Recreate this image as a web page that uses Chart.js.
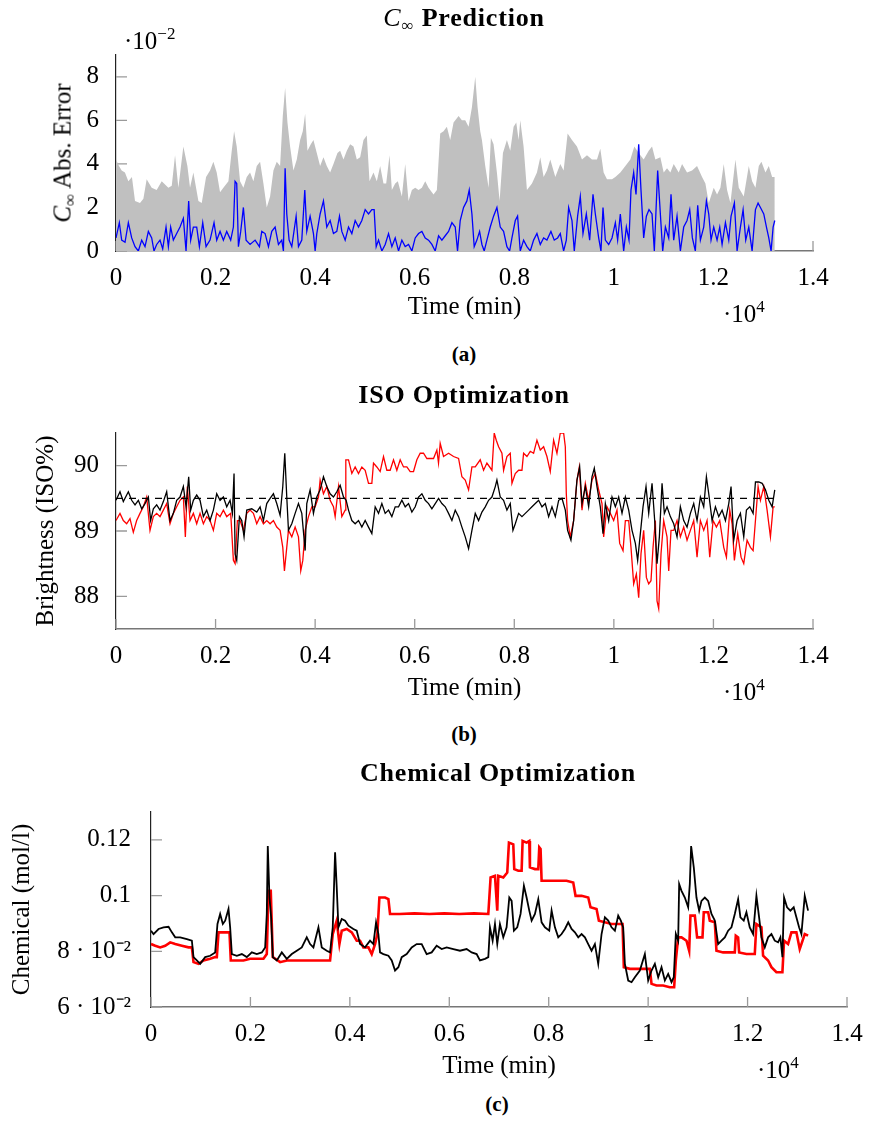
<!DOCTYPE html>
<html>
<head>
<meta charset="utf-8">
<script src="https://cdn.jsdelivr.net/npm/chart.js@4.4.1/dist/chart.umd.min.js"></script>
<style>
  body { margin:0; width:870px; height:1127px; position:relative; background:#fff; overflow:hidden;
         font-family:'Liberation Serif', serif; color:#000; }
  canvas { position:absolute; left:0; }
  .txt { position:absolute; white-space:nowrap; line-height:1; }
  .ctr { transform:translateX(-50%); }
  .ttl { font-size:26px; font-weight:bold; letter-spacing:0.8px; }
  .cap { font-size:21px; font-weight:bold; }
  .mul { font-size:25px; }
  .sup { font-size:17px; position:relative; top:-10px; }
</style>
</head>
<body>
<canvas id="ca" width="870" height="330" style="top:0px"></canvas>
<canvas id="cb" width="870" height="310" style="top:400px"></canvas>
<canvas id="cc" width="870" height="310" style="top:780px"></canvas>

<div class="txt ttl ctr" style="left:464px;top:5px"><i style="font-weight:normal">C</i><span style="font-weight:normal;font-size:17px;position:relative;top:5px">∞</span> Prediction</div>
<div class="txt mul" style="left:124px;top:28px">·10<span class="sup">−2</span></div>
<div class="txt" style="left:62px;top:153px;font-size:25px;transform:translate(-50%,-50%) rotate(-90deg)"><i>C</i><span style="font-size:17px;position:relative;top:5px">∞</span> Abs. Error</div>
<div class="txt mul" style="left:723px;top:301px">·10<span class="sup">4</span></div>
<div class="txt cap ctr" style="left:464px;top:344px">(a)</div>

<div class="txt ttl ctr" style="left:464px;top:382px">ISO Optimization</div>
<div class="txt mul" style="left:723px;top:679px">·10<span class="sup">4</span></div>
<div class="txt cap ctr" style="left:464px;top:724px">(b)</div>

<div class="txt ttl ctr" style="left:498px;top:760px">Chemical Optimization</div>
<div class="txt mul" style="left:757px;top:1057px">·10<span class="sup">4</span></div>
<div class="txt cap ctr" style="left:497px;top:1094px">(c)</div>

<script>
// ---------- shared axis ticks ----------
const xTickValues = [0, 2000, 4000, 6000, 8000, 10000, 12000, 14000];
const xTickLabels = ['0', '0.2', '0.4', '0.6', '0.8', '1', '1.2', '1.4'];

// ---------- (a) C-infinity prediction (values in units of 1e-2) ----------
const aTickValues = [0, 2, 4, 6, 8];
const aTickLabels = ['0', '2', '4', '6', '8'];
const aBandTime = [
  0, 60, 114, 180, 248, 320, 382, 482, 550, 616,
  717, 817, 918, 1052, 1120, 1186, 1253, 1353, 1434, 1487,
  1554, 1655, 1722, 1809, 1889, 1956, 2023, 2090, 2157, 2258,
  2325, 2372, 2425, 2492, 2559, 2626, 2693, 2760, 2827, 2894,
  2961, 3028, 3095, 3162, 3229, 3296, 3350, 3397, 3444, 3497,
  3564, 3631, 3698, 3752, 3799, 3846, 3913, 3966, 4033, 4100,
  4167, 4234, 4301, 4368, 4448, 4502, 4569, 4636, 4703, 4770,
  4837, 4904, 4971, 5038, 5092, 5172, 5239, 5306, 5373, 5427,
  5494, 5541, 5608, 5661, 5742, 5809, 5876, 5943, 6010, 6077,
  6144, 6211, 6278, 6378, 6445, 6512, 6579, 6646, 6713, 6780,
  6881, 6948, 7015, 7082, 7149, 7216, 7263, 7316, 7350, 7417,
  7484, 7530, 7584, 7651, 7705, 7772, 7852, 7919, 7986, 8040,
  8087, 8120, 8187, 8254, 8355, 8455, 8522, 8589, 8656, 8723,
  8824, 8924, 8991, 9071, 9159, 9259, 9360, 9460, 9561, 9661,
  9728, 9795, 9862, 9963, 10030, 10130, 10231, 10331, 10411, 10499,
  10599, 10700, 10767, 10834, 10934, 11001, 11068, 11135, 11202, 11303,
  11370, 11470, 11571, 11671, 11772, 11839, 11906, 12006, 12073, 12140,
  12207, 12274, 12341, 12442, 12509, 12609, 12710, 12777, 12844, 12911,
  12964, 13045, 13112, 13179, 13232
];
const aBand = [
  4.2, 3.9, 3.7, 3.6, 3.2, 3.4, 2.3, 2.2, 2.4, 3.3,
  2.9, 2.8, 3.2, 2.9, 3.0, 4.4, 2.9, 4.8, 3.9, 2.9,
  3.6, 2.3, 2.2, 3.4, 3.7, 4.1, 3.6, 2.7, 2.9, 3.2,
  4.6, 5.5, 4.8, 3.2, 2.9, 3.4, 3.6, 3.2, 3.9, 4.1,
  3.1, 2.0, 2.5, 3.7, 4.1, 3.9, 6.2, 7.5, 5.9, 4.8,
  3.7, 4.2, 5.1, 5.5, 6.3, 4.6, 4.9, 5.1, 4.5, 3.9,
  4.3, 3.9, 3.6, 4.0, 4.5, 4.6, 4.2, 4.6, 4.9, 4.8,
  4.2, 4.3, 5.1, 5.3, 3.2, 3.6, 3.2, 3.9, 3.1, 3.1,
  4.4, 2.8, 3.1, 3.2, 2.5, 4.0, 2.3, 2.8, 2.9, 2.8,
  2.9, 3.2, 2.9, 2.6, 2.8, 5.4, 5.5, 5.7, 5.1, 5.9,
  6.2, 6.0, 6.0, 5.7, 6.6, 8.0, 6.6, 5.5, 5.1, 3.9,
  2.9, 5.2, 4.9, 3.6, 2.3, 4.5, 5.1, 4.6, 5.7, 5.9,
  5.1, 6.0, 4.8, 2.8, 3.1, 3.6, 4.3, 3.4, 3.7, 4.2,
  3.4, 4.0, 3.7, 5.4, 5.1, 4.8, 4.2, 4.4, 4.2, 4.2,
  4.7, 3.6, 3.3, 3.3, 3.4, 3.6, 3.9, 4.2, 4.8, 4.5,
  4.2, 4.6, 4.8, 4.2, 4.3, 3.6, 3.8, 3.6, 4.0, 3.6,
  4.0, 3.6, 3.7, 3.9, 3.4, 3.1, 2.2, 2.9, 2.6, 2.9,
  4.0, 2.8, 2.2, 4.2, 2.9, 2.5, 3.9, 3.2, 2.9, 3.9,
  4.1, 3.6, 3.9, 3.4, 3.4
];
const aErrTime = [
  0, 67, 114, 181, 248, 315, 382, 449, 516, 583,
  650, 717, 763, 817, 884, 938, 1005, 1052, 1098, 1152,
  1219, 1286, 1353, 1407, 1460, 1500, 1554, 1621, 1675, 1742,
  1809, 1889, 1969, 2023, 2090, 2157, 2224, 2304, 2358, 2392,
  2425, 2459, 2505, 2559, 2613, 2693, 2794, 2881, 2928, 2995,
  3062, 3129, 3196, 3263, 3330, 3363, 3397, 3430, 3477, 3531,
  3618, 3665, 3732, 3792, 3832, 3899, 3966, 4000, 4033, 4100,
  4167, 4234, 4301, 4368, 4435, 4489, 4536, 4603, 4670, 4737,
  4804, 4871, 4938, 5005, 5072, 5139, 5185, 5226, 5273, 5340,
  5407, 5474, 5541, 5608, 5675, 5742, 5809, 5876, 5943, 6010,
  6077, 6144, 6211, 6278, 6345, 6412, 6479, 6546, 6613, 6680,
  6747, 6814, 6860, 6914, 6981, 7048, 7095, 7149, 7195, 7249,
  7303, 7350, 7396, 7450, 7517, 7584, 7651, 7718, 7785, 7852,
  7906, 7953, 8020, 8066, 8120, 8187, 8254, 8321, 8388, 8455,
  8522, 8589, 8656, 8736, 8803, 8870, 8924, 8991, 9045, 9092,
  9159, 9205, 9272, 9326, 9380, 9447, 9514, 9581, 9628, 9695,
  9741, 9782, 9829, 9896, 9963, 10030, 10076, 10130, 10197, 10251,
  10304, 10344, 10398, 10445, 10499, 10545, 10599, 10653, 10706, 10767,
  10813, 10880, 10934, 10981, 11035, 11102, 11148, 11202, 11269, 11336,
  11403, 11470, 11524, 11577, 11637, 11684, 11738, 11805, 11859, 11906,
  11952, 12006, 12073, 12127, 12174, 12241, 12308, 12354, 12421, 12475,
  12542, 12596, 12649, 12710, 12777, 12844, 12897, 12944, 13011, 13065,
  13112, 13158, 13199, 13232
];
const aErr = [
  0.6, 1.3, 0.5, 0.4, 1.3, 0.6, 0.2, 0, 0.5, 0.2,
  0.9, 0.6, 0, 0.3, 0.5, 0.1, 1.1, 0.2, 1.1, 0.5,
  0.8, 1.1, 1.5, 0, 2.3, 0.5, 1.1, 1.1, 0.2, 1.3,
  0.2, 0.5, 1.3, 0.5, 0.9, 0.5, 0.9, 0.5, 1.1, 3.2,
  3.1, 0.2, 0.9, 2.0, 0.5, 0.3, 0.5, 0.2, 0.9, 0.8,
  0.2, 0.9, 1.1, 0.3, 0.5, 0, 3.8, 1.7, 0.5, 0.2,
  1.6, 0.2, 0.5, 2.8, 0.9, 1.6, 0.8, 0, 0.8, 1.7,
  2.3, 1.1, 1.4, 0.8, 0.9, 1.6, 0.9, 0.5, 1.1, 0.8,
  1.4, 1.1, 1.4, 1.9, 1.7, 1.9, 1.9, 0.2, 0.5, 0,
  0.3, 0.8, 0.2, 0.6, 0, 0.5, 0.2, 0.3, 0, 0.6,
  0.8, 0.9, 0.6, 0.5, 0.3, 0, 0.7, 0.5, 0.7, 0.9,
  1.3, 1.1, 0, 1.4, 2.0, 2.3, 2.8, 1.7, 0.2, 0.5,
  0.9, 0.3, 0, 0.5, 1.1, 1.6, 2.0, 1.1, 0.9, 0.2,
  0, 0.6, 1.4, 1.6, 0, 0.5, 0.2, 0, 0.5, 0.8,
  0.3, 0.6, 0.5, 0.9, 0.5, 0.6, 0.8, 0, 0.5, 2.0,
  1.4, 0, 1.6, 2.5, 0.8, 1.7, 0.5, 2.6, 1.7, 0.6,
  0, 2.0, 0.5, 0.3, 0.6, 1.3, 0.5, 1.7, 0, 1.1,
  0.5, 2.8, 3.6, 2.6, 4.9, 2.8, 0.6, 1.6, 1.9, 1.7,
  0, 3.7, 1.7, 0, 1.1, 0.6, 2.6, 0.5, 1.6, 0,
  1.1, 1.4, 1.9, 0.6, 0, 2.1, 0.5, 1.1, 2.3, 1.7,
  0.5, 1.1, 0.5, 1.1, 0.3, 1.3, 0.5, 1.6, 2.2, 0,
  1.1, 1.9, 0.5, 1.1, 0, 1.9, 2.2, 2.0, 1.7, 1.1,
  0.6, 0, 1.1, 1.4
];

// ---------- (b) ISO optimization ----------
const bTickValues = [88, 89, 90];
const bTickLabels = ['88', '89', '90'];
const bTargetTime = [0, 13232];
const bTarget = [89.5, 89.5];
const bBlackTime = [
  0, 80, 147, 248, 315, 382, 449, 516, 583, 650,
  696, 750, 817, 884, 951, 1018, 1085, 1152, 1219, 1286,
  1353, 1407, 1460, 1500, 1554, 1621, 1688, 1755, 1822, 1889,
  1956, 2023, 2090, 2157, 2224, 2291, 2338, 2371, 2392, 2425,
  2479, 2526, 2572, 2626, 2727, 2827, 2894, 2961, 3028, 3095,
  3162, 3229, 3296, 3350, 3390, 3430, 3464, 3531, 3598, 3665,
  3732, 3799, 3832, 3899, 3966, 4033, 4100, 4167, 4234, 4301,
  4368, 4435, 4502, 4569, 4623, 4670, 4737, 4804, 4871, 4938,
  5005, 5072, 5139, 5206, 5273, 5340, 5407, 5474, 5541, 5608,
  5675, 5742, 5809, 5876, 5943, 6010, 6077, 6144, 6211, 6278,
  6345, 6412, 6479, 6546, 6613, 6680, 6747, 6814, 6881, 6948,
  7015, 7082, 7149, 7216, 7283, 7350, 7417, 7484, 7551, 7618,
  7651, 7718, 7785, 7852, 7919, 7973, 8020, 8087, 8154, 8221,
  8288, 8355, 8422, 8489, 8556, 8623, 8690, 8757, 8824, 8891,
  8958, 9025, 9071, 9138, 9192, 9259, 9313, 9360, 9427, 9494,
  9561, 9607, 9661, 9728, 9782, 9829, 9896, 9963, 10030, 10097,
  10164, 10231, 10298, 10365, 10432, 10478, 10532, 10586, 10646, 10700,
  10767, 10820, 10867, 10914, 10968, 11014, 11068, 11135, 11202, 11269,
  11336, 11403, 11470, 11537, 11604, 11671, 11738, 11805, 11859, 11906,
  11973, 12040, 12107, 12174, 12241, 12308, 12354, 12408, 12475, 12542,
  12609, 12663, 12730, 12797, 12844, 12911, 12978, 13045, 13112, 13179,
  13232
];
const bBlack = [
  89.47, 89.6, 89.45, 89.6, 89.47, 89.4, 89.47, 89.34, 89.42, 89.52,
  89.16, 89.34, 89.4, 89.32, 89.45, 89.6, 89.16, 89.27, 89.47, 89.52,
  89.68, 89.37, 89.83, 89.32, 89.47, 89.55, 89.47, 89.22, 89.32, 89.16,
  89.32, 89.57, 89.47, 89.52, 89.37, 89.47, 89.27, 89.88, 88.65, 88.55,
  89.22, 89.16, 88.91, 89.32, 89.34, 89.29, 89.37, 89.16, 89.42, 89.5,
  89.57, 89.42, 89.24, 89.68, 90.19, 89.52, 89.01, 89.11, 89.27, 89.42,
  89.27, 88.7, 89.42, 89.63, 89.27, 89.52, 89.63, 89.83, 89.68, 89.57,
  89.52, 89.6, 89.7, 89.52, 89.47, 89.32, 89.16, 89.11, 89.16, 89.06,
  89.16, 89.06, 88.96, 89.37, 89.27, 89.42, 89.27, 89.32, 89.22, 89.37,
  89.37, 89.47, 89.37, 89.42, 89.29, 89.37, 89.52, 89.57, 89.47, 89.42,
  89.34, 89.42, 89.5, 89.42, 89.37, 89.27, 89.16, 89.32, 89.22, 89.06,
  88.91, 88.73, 89.01, 89.27, 89.16, 89.29, 89.37, 89.47, 89.52, 89.68,
  89.78, 89.52, 89.47, 89.32, 89.42, 89.01, 89.11, 89.27, 89.22, 89.27,
  89.32, 89.37, 89.42, 89.47, 89.37, 89.42, 89.22, 89.37, 89.22, 89.47,
  89.5, 89.32, 89.01, 88.86, 89.16, 89.78, 89.98, 89.42, 89.68, 89.37,
  89.83, 89.96, 89.68, 89.37, 88.96, 89.42, 89.16, 89.52, 89.37, 89.52,
  89.27, 89.52, 89.32, 89.01, 88.81, 88.55, 88.96, 89.37, 89.68, 89.27,
  89.73, 89.16, 88.5, 88.91, 89.73, 89.27, 89.37, 89.22, 89.11, 88.91,
  89.37, 89.16, 89.06, 89.27, 89.42, 89.16, 89.52, 89.37, 89.83, 89.57,
  89.16, 89.37, 89.22, 89.32, 89.16, 89.42, 89.68, 88.86, 89.16, 89.27,
  88.91, 89.32, 89.37, 89.27, 89.75, 89.75, 89.73, 89.63, 89.47, 89.37,
  89.63
];
const bRedTime = [
  0, 80, 147, 214, 281, 348, 415, 482, 549, 616,
  683, 750, 817, 884, 951, 1018, 1085, 1152, 1219, 1286,
  1353, 1393, 1433, 1487, 1554, 1621, 1688, 1755, 1822, 1889,
  1956, 2023, 2090, 2157, 2224, 2304, 2358, 2392, 2438, 2492,
  2559, 2626, 2693, 2760, 2827, 2894, 2961, 3028, 3095, 3162,
  3229, 3296, 3350, 3383, 3430, 3464, 3531, 3598, 3665, 3711,
  3752, 3799, 3866, 3933, 4000, 4067, 4100, 4167, 4234, 4301,
  4368, 4402, 4469, 4536, 4603, 4616, 4670, 4737, 4804, 4871,
  4938, 5005, 5072, 5139, 5172, 5239, 5306, 5373, 5440, 5507,
  5574, 5641, 5708, 5775, 5842, 5909, 5976, 6043, 6110, 6177,
  6244, 6311, 6378, 6445, 6478, 6512, 6579, 6680, 6780, 6881,
  6948, 7015, 7082, 7149, 7216, 7316, 7383, 7450, 7551, 7597,
  7638, 7685, 7752, 7785, 7852, 7919, 7953, 8020, 8087, 8154,
  8187, 8254, 8321, 8388, 8455, 8522, 8589, 8656, 8723, 8790,
  8857, 8924, 8991, 9025, 9045, 9071, 9125, 9192, 9259, 9306,
  9360, 9427, 9494, 9561, 9628, 9695, 9762, 9795, 9862, 9929,
  9996, 10063, 10117, 10184, 10231, 10298, 10344, 10398, 10452, 10499,
  10545, 10599, 10653, 10700, 10746, 10787, 10834, 10867, 10901, 10947,
  11001, 11068, 11102, 11148, 11202, 11269, 11336, 11403, 11470, 11537,
  11604, 11671, 11738, 11805, 11872, 11926, 11993, 12060, 12127, 12207,
  12261, 12328, 12375, 12421, 12488, 12555, 12609, 12676, 12743, 12797,
  12844, 12897, 12944, 13011, 13078, 13145, 13199, 13232
];
const bRed = [
  89.16, 89.27, 89.16, 89.11, 89.19, 88.98, 89.16, 89.27, 89.37, 89.52,
  89.01, 89.22, 89.27, 89.22, 89.32, 89.42, 89.11, 89.27, 89.37, 89.47,
  89.52, 88.91, 89.68, 89.16, 89.27, 89.11, 89.27, 89.11, 89.22, 89.16,
  89.01, 89.27, 89.22, 89.32, 89.22, 89.27, 88.55, 88.5, 89.16, 89.16,
  89.01, 89.27, 89.32, 89.27, 89.11, 89.22, 89.11, 89.16, 89.11, 89.16,
  89.06, 89.01, 88.75, 88.39, 88.75, 89.01, 88.91, 89.06, 88.91, 88.39,
  88.55, 89.01, 89.22, 89.37, 89.37, 89.52, 89.78, 89.57, 89.68, 89.47,
  89.37, 89.22, 89.68, 89.22, 89.32, 90.09, 90.09, 89.88, 89.98, 89.88,
  89.98, 89.93, 89.73, 89.73, 90.04, 89.98, 89.91, 90.14, 89.93, 89.93,
  90.09, 89.93, 90.09, 89.98, 89.98, 89.91, 89.91, 90.09, 90.19, 90.19,
  90.11, 90.11, 90.11, 90.24, 90.04, 90.34, 90.14, 90.19, 90.14, 90.11,
  89.83, 89.78, 89.63, 89.98, 89.98, 90.09, 89.93, 90.04, 89.93, 90.5,
  90.39, 90.29, 90.19, 89.93, 90.14, 90.19, 89.73, 89.88, 89.93, 89.93,
  90.19, 90.14, 90.22, 90.19, 90.39, 90.24, 90.29, 90.14, 89.91, 90.39,
  90.19, 90.5, 90.5, 90.29, 89.57, 89.16, 88.91, 89.16, 89.78, 89.98,
  89.32, 89.73, 89.47, 89.78, 89.88, 89.63, 89.42, 88.91, 89.37, 89.27,
  89.16, 89.32, 88.81, 88.7, 89.16, 89.16, 88.75, 88.19, 88.34, 87.98,
  88.65, 89.01, 88.29, 88.19, 88.24, 88.75, 89.16, 87.93, 87.81, 88.65,
  89.16, 88.91, 88.39, 89.01, 89.01, 89.16, 88.91, 89.06, 88.86, 89.01,
  89.16, 88.6, 89.16, 89.01, 89.16, 88.6, 89.16, 89.06, 89.16, 88.75,
  88.6, 89.32, 89.11, 88.55, 88.96, 88.6, 88.5, 88.86, 88.75, 88.7,
  89.16, 89.68, 89.47, 89.68, 89.32, 88.91, 89.37, 89.37
];

// ---------- (c) Chemical optimization ----------
const cTickValues = [0.06, 0.08, 0.1, 0.12];
const cTickLabels = ['6 · 10⁻²', '8 · 10⁻²', '0.1', '0.12'];
const cBlackTime = [
  0, 51, 152, 252, 353, 420, 487, 587, 721, 822,
  855, 922, 989, 1090, 1190, 1291, 1337, 1391, 1445, 1492,
  1559, 1592, 1626, 1726, 1827, 1927, 2028, 2128, 2229, 2296,
  2329, 2349, 2383, 2416, 2450, 2530, 2631, 2731, 2832, 2932,
  3033, 3133, 3200, 3267, 3334, 3368, 3435, 3535, 3602, 3656,
  3703, 3736, 3770, 3837, 3904, 3971, 4071, 4138, 4205, 4306,
  4406, 4473, 4527, 4574, 4607, 4674, 4775, 4842, 4909, 4976,
  5043, 5143, 5244, 5344, 5445, 5545, 5646, 5746, 5847, 5947,
  6081, 6215, 6349, 6450, 6550, 6617, 6718, 6785, 6818, 6872,
  6919, 6965, 7019, 7086, 7153, 7207, 7254, 7300, 7367, 7434,
  7501, 7555, 7609, 7656, 7723, 7790, 7857, 7924, 8011, 8058,
  8125, 8192, 8259, 8326, 8393, 8460, 8527, 8594, 8661, 8728,
  8795, 8862, 8929, 8996, 9063, 9130, 9197, 9264, 9331, 9398,
  9451, 9498, 9532, 9599, 9666, 9733, 9833, 9934, 10001, 10068,
  10135, 10202, 10269, 10336, 10403, 10470, 10516, 10557, 10604, 10624,
  10671, 10738, 10805, 10838, 10865, 10918, 10972, 11026, 11073, 11140,
  11207, 11274, 11341, 11408, 11475, 11542, 11609, 11676, 11743, 11810,
  11856, 11923, 11977, 12044, 12111, 12178, 12232, 12279, 12346, 12413,
  12480, 12547, 12614, 12660, 12701, 12734, 12794, 12861, 12928, 12982,
  13036, 13083, 13150, 13217
];
const cBlack = [
  0.0874, 0.0862, 0.088, 0.0886, 0.0888, 0.0868, 0.085, 0.085, 0.0844, 0.0838,
  0.0779, 0.0767, 0.0755, 0.0779, 0.0784, 0.0796, 0.0898, 0.0934, 0.0898, 0.091,
  0.0952, 0.0886, 0.079, 0.0784, 0.079, 0.0779, 0.0796, 0.079, 0.0796, 0.0814,
  0.0934, 0.1178, 0.0993, 0.0922, 0.0779, 0.0767, 0.0796, 0.0773, 0.079, 0.0802,
  0.0814, 0.085, 0.0826, 0.0814, 0.0862, 0.0886, 0.0814, 0.0802, 0.0796, 0.0886,
  0.1155, 0.1029, 0.0886, 0.0916, 0.091, 0.0892, 0.088, 0.0874, 0.0826, 0.0814,
  0.0838, 0.0826, 0.0904, 0.0862, 0.0796, 0.079, 0.0784, 0.0767, 0.0731, 0.0743,
  0.0779, 0.079, 0.0814, 0.0826, 0.0826, 0.079, 0.0796, 0.082, 0.0808, 0.0814,
  0.0808, 0.0802, 0.0808, 0.0796, 0.079, 0.0767, 0.0773, 0.0779, 0.0886, 0.0838,
  0.0898, 0.0826, 0.0898, 0.085, 0.0886, 0.0993, 0.0981, 0.0874, 0.0886, 0.0934,
  0.1035, 0.0993, 0.0946, 0.091, 0.0934, 0.0987, 0.0904, 0.0886, 0.0874, 0.0946,
  0.0886, 0.085, 0.0862, 0.088, 0.0904, 0.088, 0.0868, 0.085, 0.0862, 0.085,
  0.0826, 0.0802, 0.0826, 0.0755, 0.0862, 0.0922, 0.091, 0.0886, 0.0874, 0.0928,
  0.091, 0.0886, 0.0755, 0.0695, 0.0689, 0.0707, 0.0731, 0.079, 0.0695, 0.0731,
  0.0755, 0.0707, 0.0743, 0.0695, 0.0719, 0.0689, 0.0707, 0.0862, 0.0838, 0.1041,
  0.1017, 0.0993, 0.0958, 0.1041, 0.1178, 0.1101, 0.0993, 0.0946, 0.0981, 0.0993,
  0.0981, 0.0934, 0.091, 0.0826, 0.0838, 0.085, 0.0874, 0.0886, 0.0934, 0.0987,
  0.0922, 0.091, 0.094, 0.0886, 0.0862, 0.0999, 0.0922, 0.085, 0.0814, 0.085,
  0.0862, 0.0838, 0.0832, 0.085, 0.0779, 0.0993, 0.0958, 0.0946, 0.0958, 0.0922,
  0.0886, 0.0862, 0.0999, 0.0946
];
const cRedTime = [
  0, 85, 185, 286, 386, 487, 621, 755, 822, 855,
  956, 1056, 1190, 1291, 1324, 1358, 1458, 1559, 1579, 1605,
  1726, 1860, 1994, 2128, 2262, 2329, 2363, 2409, 2450, 2597,
  2731, 2865, 2999, 3133, 3267, 3435, 3602, 3656, 3736, 3790,
  3837, 3937, 4038, 4138, 4205, 4272, 4373, 4440, 4507, 4553,
  4594, 4708, 4775, 4808, 5000, 5300, 5600, 5900, 6200, 6500,
  6785, 6831, 6919, 6965, 6986, 7086, 7166, 7200, 7287, 7307,
  7388, 7455, 7475, 7555, 7609, 7622, 7723, 7790, 7810, 7836,
  7857, 7957, 8091, 8225, 8359, 8493, 8540, 8661, 8795, 8841,
  8962, 9009, 9130, 9264, 9398, 9485, 9511, 9632, 9766, 9900,
  10034, 10068, 10168, 10302, 10436, 10523, 10557, 10604, 10671, 10771,
  10825, 10851, 10939, 10985, 11093, 11119, 11207, 11240, 11341, 11374,
  11508, 11642, 11743, 11763, 11810, 11830, 11977, 12145, 12178, 12279,
  12312, 12413, 12480, 12580, 12701, 12734, 12815, 12882, 12982, 13049,
  13083, 13150, 13217
];
const cRed = [
  0.0826, 0.082, 0.0814, 0.082, 0.0832, 0.0826, 0.082, 0.0814, 0.0814, 0.0761,
  0.0755, 0.0767, 0.0773, 0.0779, 0.0779, 0.0868, 0.0868, 0.0868, 0.0868, 0.0767,
  0.0767, 0.0767, 0.0773, 0.0773, 0.0773, 0.079, 0.1017, 0.1017, 0.0779, 0.0761,
  0.0767, 0.0767, 0.0767, 0.0767, 0.0767, 0.0767, 0.0767, 0.0862, 0.091, 0.0826,
  0.0874, 0.088, 0.0868, 0.0838, 0.0838, 0.0814, 0.0814, 0.079, 0.0826, 0.0862,
  0.0993, 0.0993, 0.0987, 0.0934, 0.0934, 0.0936, 0.0934, 0.0936, 0.0934, 0.0936,
  0.0934, 0.1065, 0.1071, 0.0946, 0.1071, 0.1065, 0.1083, 0.119, 0.1184, 0.1095,
  0.1089, 0.1089, 0.1196, 0.119, 0.1196, 0.1101, 0.1095, 0.1095, 0.1173, 0.1167,
  0.1053, 0.1053, 0.1053, 0.1053, 0.1053, 0.1047, 0.0999, 0.0999, 0.0993, 0.0958,
  0.0952, 0.091, 0.0904, 0.0898, 0.0898, 0.0898, 0.0743, 0.0737, 0.0737, 0.0737,
  0.0737, 0.0683, 0.0677, 0.0677, 0.0671, 0.0671, 0.0767, 0.085, 0.085, 0.0838,
  0.0802, 0.0928, 0.0928, 0.085, 0.085, 0.094, 0.094, 0.091, 0.0904, 0.0802,
  0.0796, 0.0796, 0.0796, 0.0856, 0.085, 0.0796, 0.079, 0.079, 0.0898, 0.0886,
  0.0784, 0.0767, 0.0743, 0.0725, 0.0725, 0.0838, 0.0826, 0.0868, 0.0868, 0.0808,
  0.0826, 0.0862, 0.0856
];

// ---------- helpers ----------
const zip = (xs, ys) => xs.map((x, i) => ({ x: x, y: ys[i] }));
const FONT = { family: "'Liberation Serif', serif", size: 25 };

Chart.defaults.font.family = FONT.family;
Chart.defaults.color = '#000';

const inwardTicks = {
  id: 'inwardTicks',
  beforeDatasetsDraw(chart) {
    const { ctx, chartArea: a, scales: { x, y } } = chart;
    ctx.save();
    ctx.strokeStyle = '#9a9a9a';
    ctx.lineWidth = 1.3;
    ctx.beginPath();
    x.ticks.forEach(t => {
      const px = x.getPixelForValue(t.value);
      ctx.moveTo(px, a.bottom); ctx.lineTo(px, a.bottom - 10);
    });
    y.ticks.forEach(t => {
      const py = y.getPixelForValue(t.value);
      ctx.moveTo(a.left, py); ctx.lineTo(a.left + 11, py);
    });
    ctx.stroke();
    ctx.restore();
  }
};

function makeOptions(p) {
  return {
    responsive: false,
    animation: false,
    devicePixelRatio: 1,
    layout: { padding: { top: p.padTop, right: p.padRight, left: 0, bottom: 0 } },
    plugins: { legend: { display: false }, tooltip: { enabled: false }, title: { display: false } },
    elements: { point: { radius: 0 }, line: { tension: 0 } },
    scales: {
      x: {
        type: 'linear', min: 0, max: 14000,
        afterBuildTicks: s => { s.ticks = xTickValues.map(v => ({ value: v })); },
        afterFit: s => { s.height = p.xHeight; },
        ticks: { callback: (v, i) => xTickLabels[i], autoSkip: false, maxRotation: 0, padding: 4, font: FONT, color: '#000' },
        grid: { display: false },
        border: { display: true, color: '#777', width: 1.6 },
        title: { display: true, text: 'Time (min)', font: FONT, color: '#000', padding: { top: 0, bottom: p.xTitlePad } }
      },
      y: {
        type: 'linear', min: p.yMin, max: p.yMax,
        afterBuildTicks: s => { s.ticks = p.yTicks.map(v => ({ value: v })); },
        afterFit: s => { s.width = p.yWidth; },
        ticks: { callback: (v, i) => p.yLabels[i], padding: p.yPad, font: FONT, color: '#000' },
        grid: { display: false },
        border: { display: true, color: '#222', width: 1.2 },
        title: { display: !!p.yTitle, text: p.yTitle || '', font: FONT, color: '#000', padding: { top: p.yTitlePad || 0, bottom: 0 } }
      }
    }
  };
}

// ---------- (a) ----------
new Chart(document.getElementById('ca'), {
  type: 'line',
  data: {
    datasets: [
      { data: zip(aErrTime, aErr), borderColor: '#0000ff', borderWidth: 1.3, fill: false },
      { data: zip(aBandTime, aBand), borderColor: 'rgba(0,0,0,0)', borderWidth: 0, backgroundColor: '#c0c0c0', fill: 'origin' }
    ]
  },
  options: makeOptions({ padTop: 55, padRight: 57, xHeight: 79, xTitlePad: 8, yWidth: 116, yMin: 0, yMax: 9,
    yTicks: aTickValues, yLabels: aTickLabels, yPad: 9, yTitle: '' }),
  plugins: [inwardTicks]
});

// ---------- (b) ----------
new Chart(document.getElementById('cb'), {
  type: 'line',
  data: {
    datasets: [
      { data: zip(bTargetTime, bTarget), borderColor: '#000', borderWidth: 1.2, borderDash: [7, 6], fill: false },
      { data: zip(bBlackTime, bBlack), borderColor: '#000', borderWidth: 1.3, fill: false },
      { data: zip(bRedTime, bRed), borderColor: '#ff0000', borderWidth: 1.3, fill: false }
    ]
  },
  options: makeOptions({ padTop: 33, padRight: 57, xHeight: 81, xTitlePad: 7, yWidth: 116, yMin: 87.5, yMax: 90.5,
    yTicks: bTickValues, yLabels: bTickLabels, yPad: 9, yTitle: 'Brightness (ISO%)', yTitlePad: 31 }),
  plugins: [inwardTicks]
});

// ---------- (c) ----------
new Chart(document.getElementById('cc'), {
  type: 'line',
  data: {
    datasets: [
      { data: zip(cBlackTime, cBlack), borderColor: '#000', borderWidth: 1.8, fill: false },
      { data: zip(cRedTime, cRed), borderColor: '#ff0000', borderWidth: 2.6, fill: false }
    ]
  },
  options: makeOptions({ padTop: 32, padRight: 23, xHeight: 83, xTitlePad: 9, yWidth: 151, yMin: 0.06, yMax: 0.13,
    yTicks: cTickValues, yLabels: cTickLabels, yPad: 12, yTitle: 'Chemical (mol/l)', yTitlePad: 7 }),
  plugins: [inwardTicks]
});
</script>
</body>
</html>
